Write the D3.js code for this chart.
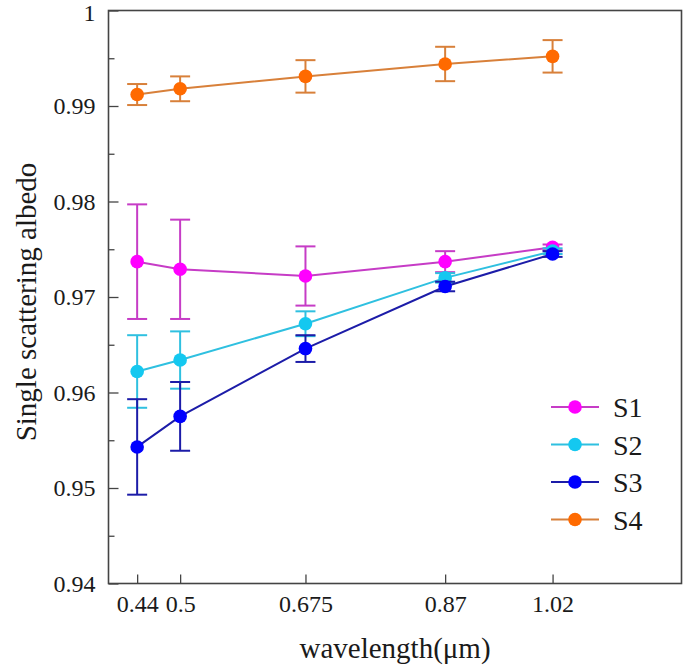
<!DOCTYPE html>
<html>
<head>
<meta charset="utf-8">
<script src="https://cdn.jsdelivr.net/npm/d3@7"></script>
<style>
  body { margin: 0; background: #fff; }
</style>
</head>
<body>
<div id="chart"></div>
<script>
// wavelength (um) and single scattering albedo
const wavelengths = [0.44, 0.5, 0.675, 0.87, 1.02];
const seriesNames = ["S1", "S2", "S3", "S4"];
const s1Values = [0.9737, 0.9729, 0.9722, 0.9737, 0.9752];
const s1Errors = [0.0060, 0.0052, 0.0031, 0.0011, 0.0003];
const s2Values = [0.9622, 0.9634, 0.9672, 0.9720, 0.9748];
const s2Errors = [0.0038, 0.0030, 0.0013, 0.0005, 0.0003];
const s3Values = [0.9543, 0.9575, 0.9646, 0.9711, 0.9745];
const s3Errors = [0.0050, 0.0036, 0.0014, 0.0005, 0.0003];
const s4Values = [0.9912, 0.9918, 0.9931, 0.9944, 0.9952];
const s4Errors = [0.0011, 0.0013, 0.0017, 0.0018, 0.0017];
const yMajorTicks = [0.94, 0.95, 0.96, 0.97, 0.98, 0.99, 1];
const yMinorTicks = [0.945, 0.955, 0.965, 0.975, 0.985, 0.995];

const lineColors = ["#c63cc6", "#2fc0e0", "#1c1ca8", "#d8803a"];
const markerColors = ["#ff00ff", "#14c8f0", "#0000ff", "#ff6a00"];
const serif = "'Liberation Serif', 'Times New Roman', serif";

const series = [
  { values: s1Values, errors: s1Errors },
  { values: s2Values, errors: s2Errors },
  { values: s3Values, errors: s3Errors },
  { values: s4Values, errors: s4Errors },
].map((s, i) => ({
  name: seriesNames[i],
  line: lineColors[i],
  marker: markerColors[i],
  points: wavelengths.map((w, j) => ({ x: w, y: s.values[j], e: s.errors[j] })),
}));

const width = 685;
const height = 667;
const plotLeft = 108.5, plotRight = 681.5, plotTop = 10.5, plotBottom = 583.5;

const svg = d3.select("#chart").append("svg").attr("width", width).attr("height", height);

const x = d3.scaleLinear().domain([0.4, 1.2]).range([plotLeft, plotRight]);
const y = d3.scaleLinear().domain([0.94, 1]).range([plotBottom, plotTop]);

// axes, ticks pointing inward
const xAxis = svg.append("g")
  .attr("transform", `translate(0,${plotBottom})`)
  .call(d3.axisBottom(x).tickValues(wavelengths).tickSize(-9).tickPadding(11).tickFormat(d3.format("")));

const yAxis = svg.append("g")
  .attr("transform", `translate(${plotLeft},0)`)
  .call(d3.axisLeft(y).tickValues(yMajorTicks).tickSize(-10).tickPadding(13).tickFormat((d) => (d === 1 ? "1" : d3.format(".2f")(d))));

svg.append("g")
  .attr("transform", `translate(${plotLeft},0)`)
  .call(d3.axisLeft(y).tickValues(yMinorTicks).tickSize(-6).tickFormat(""))
  .select(".domain").remove();

[xAxis, yAxis].forEach((g) => {
  g.select(".domain").remove();
  g.attr("font-family", serif).attr("font-size", 24);
  g.selectAll(".tick text").style("font-family", serif).style("font-size", "24px").attr("fill", "#1a1a1a");
});
yAxis.selectAll(".tick text").filter((d) => d === 1).attr("dy", "0.42em");
svg.selectAll(".tick line").attr("stroke", "#444").attr("stroke-width", 1.3);

// frame
svg.append("rect")
  .attr("x", plotLeft).attr("y", plotTop)
  .attr("width", plotRight - plotLeft).attr("height", plotBottom - plotTop)
  .attr("fill", "none").attr("stroke", "#444").attr("stroke-width", 1.6);

// axis titles
svg.append("text")
  .attr("x", (plotLeft + plotRight) / 2).attr("y", 658)
  .attr("text-anchor", "middle")
  .style("font-family", serif)
  .style("font-size", "29px")
  .attr("fill", "#1a1a1a")
  .text("wavelength(μm)");

svg.append("text")
  .attr("transform", `translate(36,${(plotTop + plotBottom) / 2 + 5}) rotate(-90)`)
  .attr("text-anchor", "middle")
  .style("font-family", serif)
  .style("font-size", "29px")
  .attr("fill", "#1a1a1a")
  .text("Single scattering albedo");

const line = d3.line().x((d) => x(d.x)).y((d) => y(d.y));
const cap = 10;

series.forEach((s) => {
  const g = svg.append("g");
  g.append("path")
    .attr("d", line(s.points))
    .attr("fill", "none")
    .attr("stroke", s.line)
    .attr("stroke-width", 2);

  const bars = g.selectAll(".err").data(s.points).enter().append("g").attr("stroke", s.line).attr("stroke-width", 2);
  bars.append("line")
    .attr("x1", (d) => x(d.x)).attr("x2", (d) => x(d.x))
    .attr("y1", (d) => y(d.y - d.e)).attr("y2", (d) => y(d.y + d.e));
  bars.append("line")
    .attr("x1", (d) => x(d.x) - cap).attr("x2", (d) => x(d.x) + cap)
    .attr("y1", (d) => y(d.y + d.e)).attr("y2", (d) => y(d.y + d.e));
  bars.append("line")
    .attr("x1", (d) => x(d.x) - cap).attr("x2", (d) => x(d.x) + cap)
    .attr("y1", (d) => y(d.y - d.e)).attr("y2", (d) => y(d.y - d.e));

  g.selectAll("circle").data(s.points).enter().append("circle")
    .attr("cx", (d) => x(d.x)).attr("cy", (d) => y(d.y))
    .attr("r", 6.8)
    .attr("fill", s.marker);
});

// legend
const legend = svg.append("g").attr("transform", "translate(551,407)");
const rowGap = 37.5;
series.forEach((s, i) => {
  const row = legend.append("g").attr("transform", `translate(0,${i * rowGap})`);
  row.append("line").attr("x1", 0).attr("x2", 48).attr("y1", 0).attr("y2", 0)
    .attr("stroke", s.line).attr("stroke-width", 2);
  row.append("circle").attr("cx", 24).attr("cy", 0).attr("r", 6.8).attr("fill", s.marker);
  row.append("text").attr("x", 62).attr("y", 10)
    .style("font-family", serif).style("font-size", "28px").attr("fill", "#1a1a1a")
    .text(s.name);
});
</script>
</body>
</html>
